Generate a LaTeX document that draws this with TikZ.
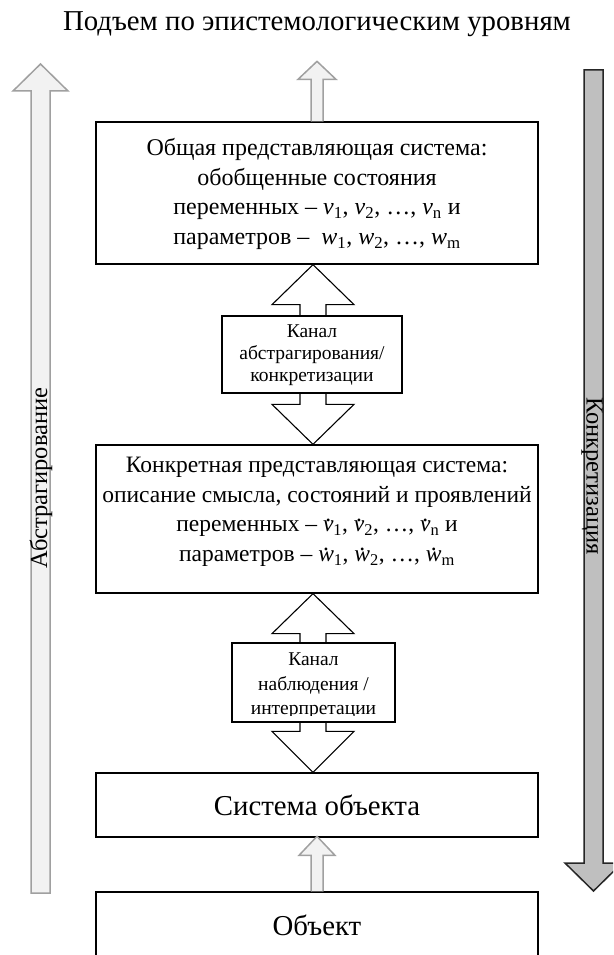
\documentclass[tikz,border=0pt]{standalone}
\usepackage{fontspec}
\setmainfont{Liberation Serif}
\usetikzlibrary{calc}

\definecolor{lightfill}{HTML}{F2F2F2}
\definecolor{lightedge}{HTML}{A0A0A0}
\definecolor{darkfill}{HTML}{BFBFBF}
\definecolor{darkedge}{HTML}{262626}

% italic variable with an upright subscript
\newcommand\ivar[2]{\textit{#1}\textsubscript{#2}}
% the same variable with a dot above it
\newcommand\dvar[2]{\ooalign{\textit{#1}\cr\hidewidth\raisebox{0.46em}{.}\hidewidth\cr}\textsubscript{#2}}

\begin{document}
\begin{tikzpicture}[x=1pt,y=-1pt,
  mainbox/.style={draw=black, line width=1.3pt, fill=white, inner sep=0pt},
  chanbox/.style={draw=black, line width=1.1pt, fill=white, inner sep=0pt},
  upblock/.style={draw=lightedge, fill=lightfill, line width=1.5pt},
  downblock/.style={draw=darkedge, fill=darkfill, line width=1.5pt},
  chanarrow/.style={draw=black, fill=white, line width=1.1pt},
  bigtxt/.style={font=\fontsize{28.8}{32}\selectfont},
  boxtxt/.style={font=\fontsize{#1}{29.5}\selectfont, align=center},
  chantxt/.style={font=\fontsize{19.5}{#1}\selectfont, align=center},
  sidetxt/.style={font=\fontsize{24.5}{28}\selectfont},
]
\useasboundingbox (0,0) rectangle (613,955);
\clip (0,0) rectangle (613,955);

% heading
\node[bigtxt, anchor=base] (title) at (317,31) {Подъем по эпистемологическим уровням};

% side arrows: abstraction going up, concretisation going down
\draw[upblock] (31,893) -- (31,91) -- (13,91) -- (40.5,64) -- (68,91) -- (50,91) -- (50,893) -- cycle;
\draw[downblock] (584,70) -- (603,70) -- (603,863) -- (622,863) -- (593.5,891) -- (565,863) -- (584,863) -- cycle;
\node[sidetxt, rotate=90] (abstr) at (41,478) {Абстрагирование};
\node[sidetxt, rotate=-90] (concr) at (592,476) {Конкретизация};

% level boxes
\node[mainbox, minimum width=442pt, minimum height=142pt] (gen) at (317,193) {};
\node[mainbox, minimum width=442pt, minimum height=148pt] (conc) at (317,519) {};
\node[mainbox, minimum width=442pt, minimum height=64pt] (sys) at (317,805) {};
\node[mainbox, minimum width=442pt, minimum height=90pt] (obj) at (317,937) {};

% arrow leaving the top level
\draw[upblock] ($(gen.north)+(-6,0)$) -- ++(0,-42) -- ++(-13,0) -- ++(19,-18) -- ++(19,18) -- ++(-13,0) -- ++(0,42);
% arrow from the object to its system
\draw[upblock] ($(obj.north)+(-6,0)$) -- ++(0,-36) -- ++(-12,0) -- ++(18,-19) -- ++(18,19) -- ++(-12,0) -- ++(0,36);

% two-way channels between levels
\coordinate (c1t) at ($(gen.south)+(-4,0)$);
\coordinate (c1b) at ($(conc.north)+(-4,0)$);
\draw[chanarrow] (c1t) -- ++(41,40) -- ++(-28,0) -- ($(c1b)+(13,-40)$) -- ++(28,0) -- (c1b)
  -- ++(-41,-40) -- ++(28,0) -- ($(c1t)+(-13,40)$) -- ++(-28,0) -- cycle;
\coordinate (c2t) at ($(conc.south)+(-4,0)$);
\coordinate (c2b) at ($(sys.north)+(-4,0)$);
\draw[chanarrow] (c2t) -- ++(41,40) -- ++(-28,0) -- ($(c2b)+(13,-41)$) -- ++(28,0) -- (c2b)
  -- ++(-41,-41) -- ++(28,0) -- ($(c2t)+(-13,40)$) -- ++(-28,0) -- cycle;

\node[chanbox, minimum width=180pt, minimum height=77pt] (ch1) at (312,354.5) {};
\node[chantxt=21.7, align=center] (ch1txt) at (312,355) {Канал\\абстрагирования/\\конкретизации};
\node[chanbox, minimum width=163pt, minimum height=79pt] (ch2) at (313.5,682.5) {};
\begin{scope}
  \clip (232,643) rectangle (395,715);
  \node[chantxt=24.5, align=center] (ch2txt) at (313.5,686) {Канал\\наблюдения /\\интерпретации};
\end{scope}

% texts of the levels
\node[boxtxt=24] (gentxt) at (317,194) {Общая представляющая система:\\
  обобщенные состояния\\
  переменных – \ivar{v}{1}, \ivar{v}{2}, …, \ivar{v}{n} и\\
  параметров –\ \ \ivar{w}{1}, \ivar{w}{2}, …, \ivar{w}{m}};
\node[boxtxt=23.5] (conctxt) at (317,512) {Конкретная представляющая система:\\
  описание смысла, состояний и проявлений\\
  переменных – \dvar{v}{1}, \dvar{v}{2}, …, \dvar{v}{n} и\\
  параметров – \dvar{w}{1}, \dvar{w}{2}, …, \dvar{w}{m}};
\node[bigtxt] (systxt) at (sys.center) {Система объекта};
\node[bigtxt] (objtxt) at (317,925) {Объект};
\end{tikzpicture}
\end{document}
